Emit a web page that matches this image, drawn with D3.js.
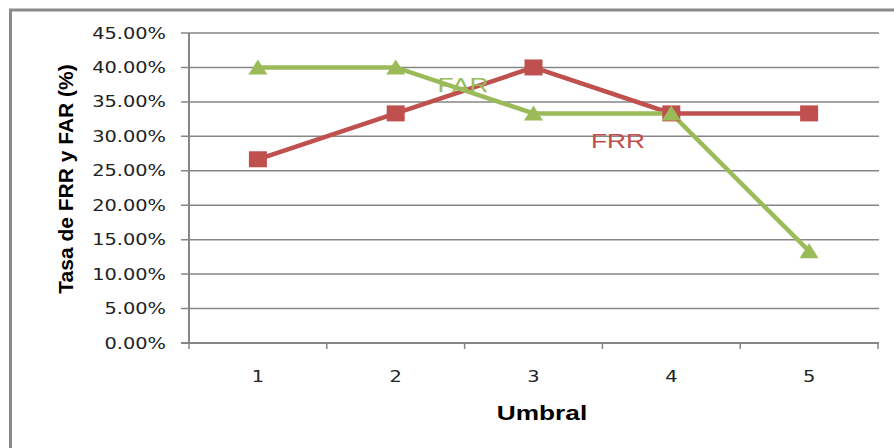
<!DOCTYPE html>
<meta charset="utf-8">
<style>
    body { margin: 0; background: #fff; }
    svg { display: block; }
    .tick-label { font-family: "DejaVu Sans", Verdana, sans-serif; font-size: 15.5px; fill: #222; }
    .title { font-family: "Liberation Sans", Arial, sans-serif; font-size: 21px; font-weight: bold; fill: #000; }
    .series-label { font-family: "Liberation Sans", Arial, sans-serif; font-size: 21px; }
</style>
<svg width="894" height="448"></svg>
<script src="https://cdn.jsdelivr.net/npm/d3@7"></script>
<script>

    const umbrales = ["1", "2", "3", "4", "5"];
    const frr = [26.67, 33.33, 40.0, 33.33, 33.33];
    const far = [40.0, 40.0, 33.33, 33.33, 13.33];
    const yTicks = [0, 5, 10, 15, 20, 25, 30, 35, 40, 45];

    const RED = "#C0504D";
    const GREEN = "#9BBB59";
    const GRID = "#868686";
    const SX = 1.25; // horizontal stretch of the original picture

    var svg = d3.select("svg");

    // outer chart border (runs off right / bottom edge)
    svg.append("rect")
        .attr("x", 10.5).attr("y", 10)
        .attr("width", 950).attr("height", 500)
        .attr("fill", "none")
        .attr("stroke", "#8a8a8a")
        .attr("stroke-width", 3);

    var x = d3.scaleBand().domain(umbrales).range([189, 878]).padding(0);
    var y = d3.scaleLinear().domain([0, 45]).range([343, 33]);

    // gridlines + left tick marks
    svg.append("g").selectAll("line")
        .data(yTicks.slice(1))
        .enter().append("line")
        .attr("x1", 181).attr("x2", 879)
        .attr("y1", function (d) { return y(d); })
        .attr("y2", function (d) { return y(d); })
        .attr("stroke", GRID)
        .attr("stroke-width", 1.5);

    // y tick labels
    svg.append("g").selectAll("text")
        .data(yTicks)
        .enter().append("text")
        .attr("class", "tick-label")
        .attr("text-anchor", "end")
        .attr("transform", function (d) {
            return "translate(166," + (y(d) + 5.5) + ") scale(" + SX + ",1)";
        })
        .text(function (d) { return d.toFixed(2) + "%"; });

    // y axis
    svg.append("line")
        .attr("x1", 189).attr("x2", 189)
        .attr("y1", y(45)).attr("y2", y(0) + 1)
        .attr("stroke", GRID).attr("stroke-width", 2);

    // x axis
    svg.append("line")
        .attr("x1", 181).attr("x2", 879)
        .attr("y1", y(0)).attr("y2", y(0))
        .attr("stroke", GRID).attr("stroke-width", 2);

    var bounds = umbrales.map(function (d) { return x(d); }).concat([x.range()[1]]);
    svg.append("g").selectAll("line")
        .data(bounds)
        .enter().append("line")
        .attr("x1", function (d) { return d; })
        .attr("x2", function (d) { return d; })
        .attr("y1", y(0)).attr("y2", y(0) + 6)
        .attr("stroke", GRID).attr("stroke-width", 1.5);

    // x tick labels
    svg.append("g").selectAll("text")
        .data(umbrales)
        .enter().append("text")
        .attr("class", "tick-label")
        .attr("text-anchor", "middle")
        .attr("transform", function (d) {
            return "translate(" + (x(d) + x.bandwidth() / 2) + ",382) scale(" + SX + ",1)";
        })
        .text(function (d) { return d; });

    // axis titles
    svg.append("text")
        .attr("class", "title")
        .attr("text-anchor", "middle")
        .attr("transform", "translate(73,179) rotate(-90)")
        .text("Tasa de FRR y FAR (%)");

    svg.append("text")
        .attr("class", "title")
        .attr("text-anchor", "middle")
        .attr("transform", "translate(542,420) scale(" + SX + ",1)")
        .text("Umbral");

    var cx = function (i) { return x(umbrales[i]) + x.bandwidth() / 2; };
    var line = d3.line()
        .x(function (d, i) { return cx(i); })
        .y(function (d) { return y(d); });

    // FRR
    svg.append("path")
        .datum(frr)
        .attr("d", line)
        .attr("fill", "none")
        .attr("stroke", RED)
        .attr("stroke-width", 4.5);

    // FAR
    svg.append("path")
        .datum(far)
        .attr("d", line)
        .attr("fill", "none")
        .attr("stroke", GREEN)
        .attr("stroke-width", 4.5);

    svg.append("g").selectAll("rect")
        .data(frr)
        .enter().append("rect")
        .attr("x", function (d, i) { return cx(i) - 9; })
        .attr("y", function (d) { return y(d) - 8; })
        .attr("width", 18).attr("height", 16)
        .attr("fill", RED);

    svg.append("g").selectAll("path")
        .data(far)
        .enter().append("path")
        .attr("d", function (d, i) {
            var px = cx(i), py = y(d);
            return "M" + (px - 9.5) + "," + (py + 7) + "L" + px + "," + (py - 8) +
                "L" + (px + 9.5) + "," + (py + 7) + "Z";
        })
        .attr("fill", GREEN);

    // series labels
    svg.append("text")
        .attr("class", "series-label")
        .attr("fill", GREEN)
        .attr("text-anchor", "middle")
        .attr("transform", "translate(463,92) scale(" + SX + ",1)")
        .text("FAR");

    svg.append("text")
        .attr("class", "series-label")
        .attr("fill", RED)
        .attr("text-anchor", "middle")
        .attr("transform", "translate(618,148) scale(" + SX + ",1)")
        .text("FRR");

</script>
